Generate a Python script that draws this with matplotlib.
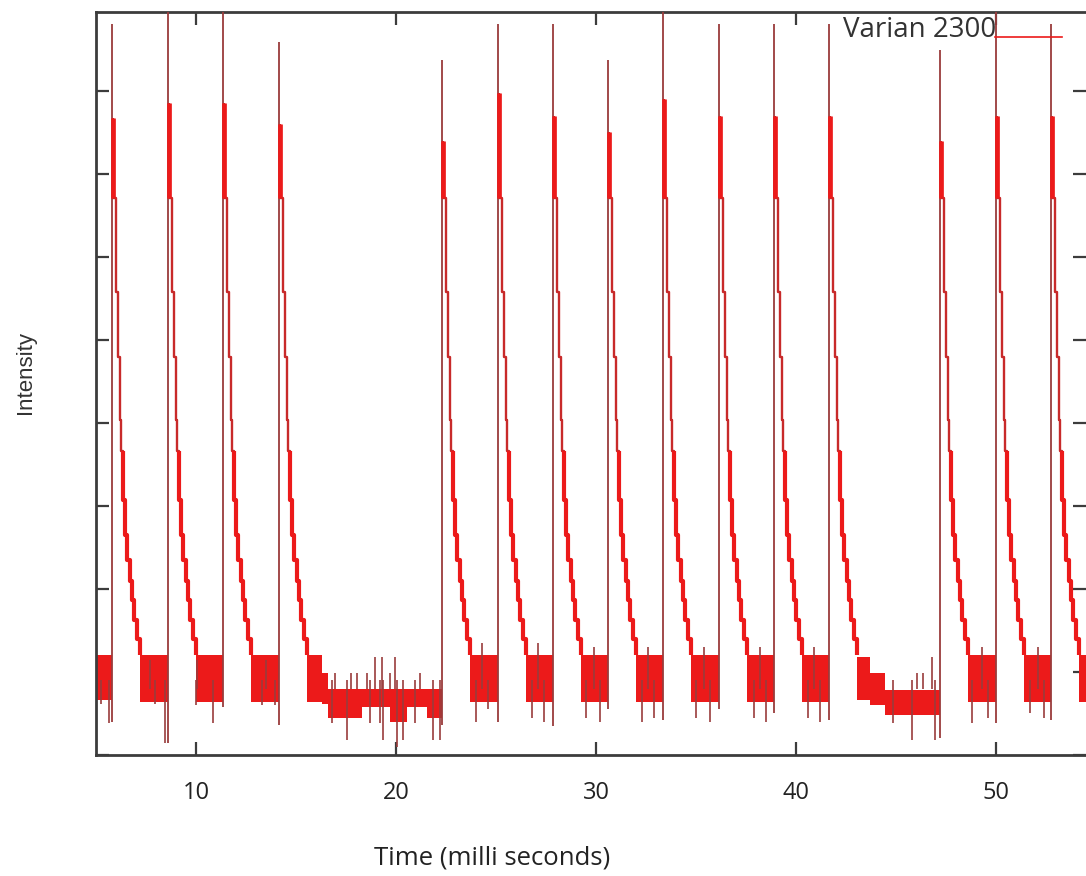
import matplotlib
matplotlib.use("Agg")
import matplotlib.pyplot as plt

# ---------------- data (time in ms, intensity in arbitrary units) ----------------
pulse_ms    = [5.80, 8.60, 11.35, 14.15, 22.30, 25.10, 27.85, 30.60, 33.35, 36.15, 38.90, 41.65, 47.20, 50.00, 52.75]
pulse_peak  = [8.80, 9.60, 9.60, 8.59, 8.37, 8.80, 8.80, 8.37, 9.60, 8.80, 8.80, 8.80, 8.49, 9.00, 8.80]
pulse_foot  = [0.40, 0.15, 0.58, 0.36, 0.36, 0.40, 0.35, 0.55, 0.42, 0.55, 0.50, 0.42, 0.20, 0.38, 0.42]
pulse_first = [7.67, 7.85, 7.85, 7.60, 7.40, 7.98, 7.70, 7.50, 7.90, 7.70, 7.70, 7.70, 7.40, 7.70, 7.70]

# decay staircase after every pulse: offset (ms) of each step and the level it drops to
decay_dt = [0.05, 0.20, 0.30, 0.40, 0.45, 0.55, 0.65, 0.75, 0.90, 1.00, 1.10, 1.25, 1.40]
decay_lo = [6.71, 5.58, 4.80, 4.04, 3.66, 3.07, 2.65, 2.35, 2.10, 1.87, 1.63, 1.40, 1.20]

# noisy baseline bands between pulses
band_start = [5.00, 7.20, 10.00, 12.75, 15.55, 16.30, 16.60, 18.30, 19.70, 20.55, 21.55,
              23.70, 26.50, 29.25, 32.00, 34.75, 37.55, 40.30, 43.05, 43.70, 44.45,
              48.60, 51.40, 54.15]
band_end   = [5.80, 8.60, 11.35, 14.15, 16.30, 16.60, 18.30, 19.70, 20.55, 21.55, 22.30,
              25.10, 27.85, 30.60, 33.35, 36.15, 38.90, 41.65, 43.70, 44.45, 47.20,
              50.00, 52.75, 54.50]
band_top   = [1.20, 1.20, 1.20, 1.20, 1.20, 0.99, 0.80, 0.80, 0.80, 0.80, 0.80,
              1.20, 1.20, 1.20, 1.20, 1.20, 1.20, 1.20, 1.18, 0.99, 0.78,
              1.20, 1.20, 1.20]
band_bot   = [0.66, 0.64, 0.64, 0.64, 0.64, 0.62, 0.45, 0.58, 0.40, 0.58, 0.45,
              0.64, 0.64, 0.64, 0.64, 0.64, 0.64, 0.64, 0.66, 0.60, 0.48,
              0.64, 0.64, 0.64]

# thin noise spikes (time, level reached)
spike_ms  = [5.25, 5.65, 7.70, 7.95, 8.45, 10.00, 10.05, 10.85, 13.30, 13.50, 13.95,
             16.80, 16.95, 17.55, 17.75, 18.05, 18.55, 18.70, 18.95, 19.20, 19.30, 19.35,
             19.70, 19.95, 20.05, 20.35, 20.95, 21.20, 21.85, 22.20,
             24.00, 24.30, 24.60, 26.80, 27.10, 27.40, 29.50, 29.90, 30.20,
             32.30, 32.60, 32.90, 35.00, 35.40, 35.70, 37.90, 38.20, 38.50,
             40.60, 40.90, 41.20, 44.85, 45.80, 46.05, 46.35, 46.80, 46.95,
             48.80, 49.30, 49.60, 51.70, 52.10, 52.40]
spike_val = [0.62, 0.39, 1.15, 0.62, 0.15, 0.60, 1.15, 0.39, 0.60, 1.15, 0.60,
             0.39, 0.99, 0.18, 0.99, 0.99, 0.99, 0.39, 1.18, 0.39, 1.18, 0.18,
             0.99, 1.18, 0.10, 0.18, 0.39, 0.99, 0.18, 0.18,
             0.40, 1.35, 0.55, 0.45, 1.35, 0.40, 0.45, 1.30, 0.40,
             0.40, 1.30, 0.45, 0.45, 1.30, 0.40, 0.45, 1.30, 0.40,
             0.45, 1.30, 0.40, 0.39, 0.18, 0.99, 0.99, 1.18, 0.18,
             0.38, 1.30, 0.45, 0.50, 1.30, 0.45]

x_ticks = [10, 20, 30, 40, 50]
y_ticks = [0, 1, 2, 3, 4, 5, 6, 7, 8]
legend_label = "Varian 2300"

RED = "#ec1a1a"
MIDRED = "#c82a2a"
DARK = "#9a3c3c"
AXC = "#3c3c3c"

fig = plt.figure(figsize=(10.86, 8.76), dpi=100)
ax = fig.add_axes([96 / 1086, 121 / 876, 990 / 1086, 743 / 876])
ax.set_xlim(5.0, 54.5)
ax.set_ylim(0.0, 8.95)

# baseline bands
for s, e, t, b in zip(band_start, band_end, band_top, band_bot):
    ax.fill_between([s, e], [b, b], [t, t], color=RED, lw=0, zorder=2)

# rise lines
ax.vlines(pulse_ms, pulse_foot, pulse_peak, color=DARK, lw=1.3, zorder=3)

# decays
for p, first in zip(pulse_ms, pulse_first):
    xs = [p + decay_dt[0]]
    ys = [first]
    for k, lo in enumerate(decay_lo):
        xs.append(p + decay_dt[k])
        ys.append(lo)
        if k + 1 < len(decay_dt):
            xs.append(p + decay_dt[k + 1])
            ys.append(lo)
    ax.plot(xs, ys, color=MIDRED, lw=1.7, solid_capstyle="butt", zorder=4)
    # first (bright, thick) segment and the lower, denser part of the decay
    ax.plot(xs[:2], ys[:2], color=RED, lw=3.4, solid_capstyle="butt", zorder=4)
    ax.plot(xs[10:], ys[10:], color=RED, lw=3.0, solid_capstyle="butt", zorder=4)

# noise spikes
mid = [0.9 if v < 0.9 else 0.8 for v in spike_val]
ax.vlines(spike_ms, mid, spike_val, color=DARK, lw=1.2, zorder=3)

# legend (gnuplot style: text then line)
ax.text(42.35, 8.73, legend_label, fontsize=20, family="Open Sans", color="#333333",
        ha="left", va="center", zorder=1)
ax.plot([49.95, 53.3], [8.65, 8.65], color=RED, lw=1.2, zorder=5)

# axes styling
for side in ["left", "bottom", "top"]:
    ax.spines[side].set_color(AXC)
    ax.spines[side].set_linewidth(2.0)
ax.spines["right"].set_visible(False)
ax.set_xticks(x_ticks)
ax.set_xticklabels([str(v) for v in x_ticks], family="Open Sans", color="#222222")
ax.set_yticks(y_ticks)
ax.tick_params(axis="both", direction="in", length=9.5, width=1.6, color=AXC,
               top=True, right=True, labelleft=False, labelsize=17, pad=19)

fig.text(492 / 1086, (876 - 858) / 876, "Time (milli seconds)", fontsize=18.5,
         family="Open Sans", color="#222222", ha="center", va="center")
fig.text(26 / 1086, (876 - 372) / 876, "Intensity", fontsize=16, rotation=90,
         family="Liberation Sans", color="#333333", ha="center", va="center")

fig.savefig("out.png", dpi=100)
